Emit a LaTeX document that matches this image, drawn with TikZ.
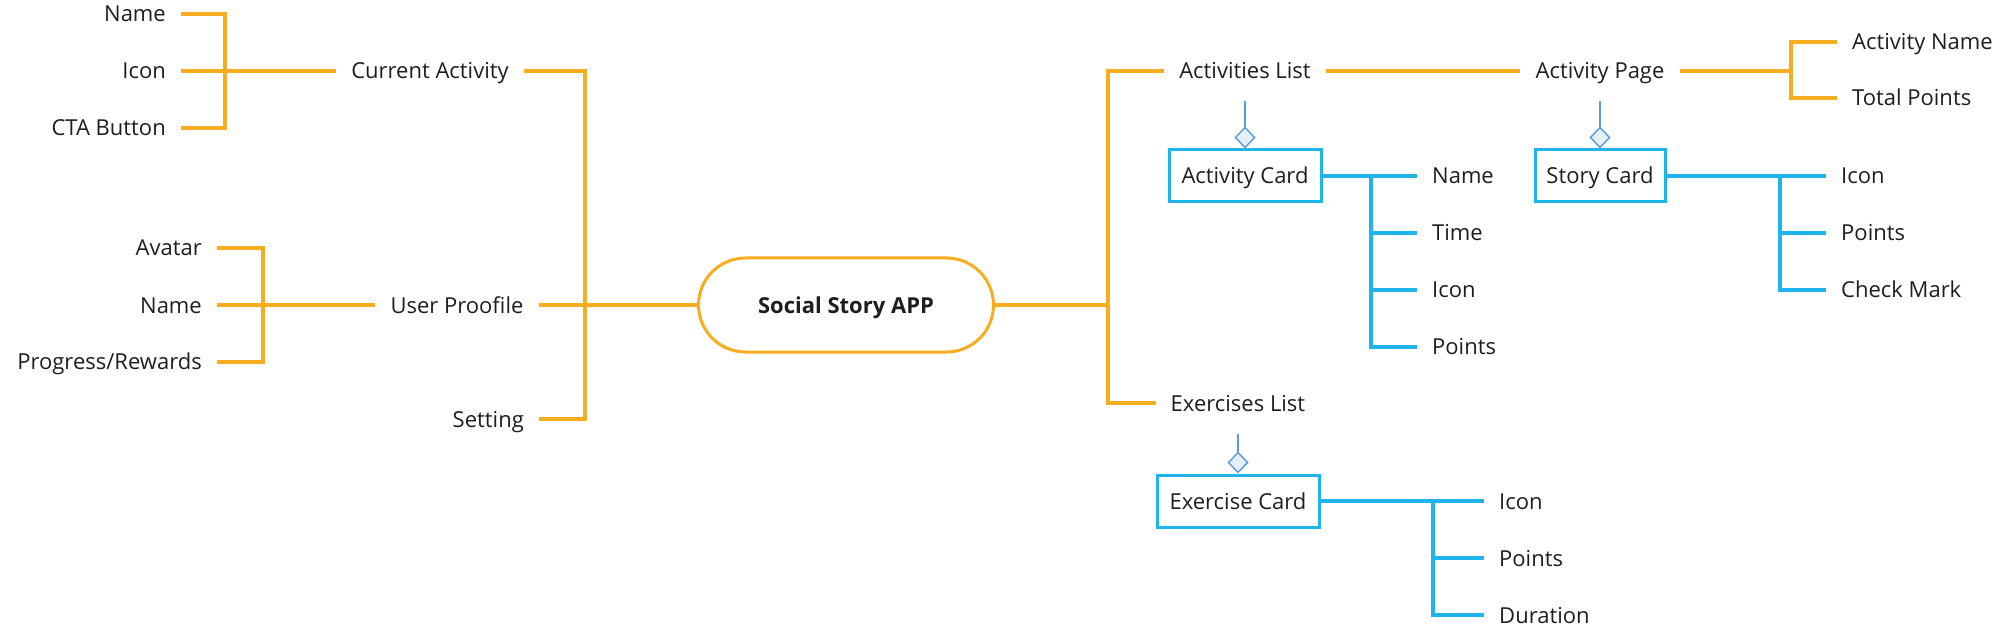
\documentclass[tikz,border=0pt]{standalone}
\usepackage{fontspec}
\setmainfont{Open Sans}
\usetikzlibrary{arrows.meta,positioning}
\definecolor{mapOrange}{HTML}{F6AD1F}
\definecolor{cardBlue}{HTML}{1FB5EC}
\definecolor{linkBlue}{HTML}{5A9BDC}
\definecolor{linkFill}{HTML}{E6F0FB}
\definecolor{inkGray}{HTML}{1E1E1E}
\tikzset{
  topic/.style={font=\fontsize{22}{26}\selectfont, text=inkGray, inner xsep=15pt, inner ysep=0pt, text height=16pt, text depth=0pt},
  root/.style={topic, font=\fontsize{22}{26}\selectfont\bfseries, draw=mapOrange, line width=3pt, fill=white, rounded corners=47pt, minimum width=295pt, minimum height=94pt},
  card/.style={topic, inner xsep=0pt, draw=cardBlue, line width=3pt, minimum height=52pt},
  obranch/.style={draw=mapOrange, line width=3.2pt},
  bbranch/.style={draw=cardBlue, line width=3.2pt},
  aggr/.style={draw=linkBlue, line width=1.4pt, -{Diamond[length=22pt,width=21pt,fill=linkFill]}},
}
\begin{document}
\begin{tikzpicture}[x=1pt,y=-1pt]
\useasboundingbox (0,0) rectangle (2000,644);
% root
\node[root] (root) at (846,305) {Social Story APP};
% left side
\node[topic, anchor=east] (curName) at (181,14) {Name};
\node[topic, anchor=east] (curIcon) at (181,71) {Icon};
\node[topic, anchor=east] (curCta) at (181,128) {CTA Button};
\node[topic] (cur) at (430,71) {Current Activity};
\node[topic, anchor=east] (usrAvatar) at (217,248) {Avatar};
\node[topic, anchor=east] (usrName) at (217,305) {Name};
\node[topic, anchor=east] (usrProgress) at (217,362) {Progress/Rewards};
\node[topic] (usr) at (457,305) {User Proofile};
\node[topic, anchor=east] (set) at (539,419) {Setting};
\coordinate (curFork) at (225,71);
\coordinate (usrFork) at (263,305);
\coordinate (leftTrunk) at (585,305);
\draw[obranch] (curName.east) -| (curFork) |- (curCta.east);
\draw[obranch] (curIcon.east) -- (cur.west);
\draw[obranch] (usrAvatar.east) -| (usrFork) |- (usrProgress.east);
\draw[obranch] (usrName.east) -- (usr.west);
\draw[obranch] (cur.east) -| (leftTrunk) |- (set.east);
\draw[obranch] (usr.east) -- (root.west);
% right side
\node[topic] (actList) at (1245,71) {Activities List};
\node[topic] (actPage) at (1600,71) {Activity Page};
\node[topic, anchor=west] (pageName) at (1837,42) {Activity Name};
\node[topic, anchor=west] (pagePoints) at (1837,98) {Total Points};
\node[topic] (exList) at (1238,403) {Exercises List};
\coordinate (rightTrunk) at (1108,305);
\coordinate (pageFork) at (1791,71);
\draw[obranch] (root.east) -- (rightTrunk);
\draw[obranch] (actList.west) -| (rightTrunk) |- (exList.west);
\draw[obranch] (actList.east) -- (actPage.west);
\draw[obranch] (actPage.east) -- (pageFork);
\draw[obranch] (pageName.west) -| (pageFork) |- (pagePoints.west);
% cards
\node[card, minimum width=152pt] (actCard) at (1245,176) {Activity Card};
\node[card, minimum width=130pt] (storyCard) at (1600,176) {Story Card};
\node[card, minimum width=162pt] (exCard) at (1238,501) {Exercise Card};
\draw[aggr, shorten <=30pt] (actList.center) -- (actCard.north);
\draw[aggr, shorten <=30pt] (actPage.center) -- (storyCard.north);
\draw[aggr, shorten <=31pt] (exList.center) -- (exCard.north);
% activity card fields
\node[topic, anchor=west] (actName) at (1417,176) {Name};
\node[topic, anchor=west] (actTime) at (1417,233) {Time};
\node[topic, anchor=west] (actIcon) at (1417,290) {Icon};
\node[topic, anchor=west] (actPoints) at (1417,347) {Points};
\coordinate (actFork) at (1371,176);
\draw[bbranch] (actCard.east) -- (actName.west);
\draw[bbranch] (actFork) |- (actPoints.west);
\draw[bbranch] (actFork |- actTime.west) -- (actTime.west);
\draw[bbranch] (actFork |- actIcon.west) -- (actIcon.west);
% story card fields
\node[topic, anchor=west] (storyIcon) at (1826,176) {Icon};
\node[topic, anchor=west] (storyPoints) at (1826,233) {Points};
\node[topic, anchor=west] (storyCheck) at (1826,290) {Check Mark};
\coordinate (storyFork) at (1780,176);
\draw[bbranch] (storyCard.east) -- (storyIcon.west);
\draw[bbranch] (storyFork) |- (storyCheck.west);
\draw[bbranch] (storyFork |- storyPoints.west) -- (storyPoints.west);
% exercise card fields
\node[topic, anchor=west] (exIcon) at (1484,501) {Icon};
\node[topic, anchor=west] (exPoints) at (1484,558) {Points};
\node[topic, anchor=west] (exDuration) at (1484,615) {Duration};
\coordinate (exFork) at (1433,501);
\draw[bbranch] (exCard.east) -- (exIcon.west);
\draw[bbranch] (exFork) |- (exDuration.west);
\draw[bbranch] (exFork |- exPoints.west) -- (exPoints.west);
\end{tikzpicture}
\end{document}
